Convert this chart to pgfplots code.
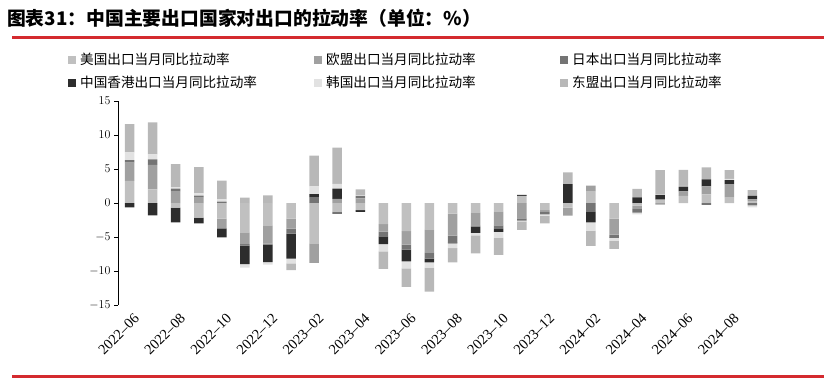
\documentclass[border=0pt]{standalone}
\usepackage{pgfplots}
\pgfplotsset{compat=1.18}
\usepackage{pgfplotstable}
\usepackage{fontspec}
\setmainfont{Liberation Serif}
\newfontfamily\cjk{Noto Sans CJK SC}
\definecolor{cUS}{HTML}{C0C0C0}
\definecolor{cEU}{HTML}{A0A0A0}
\definecolor{cJP}{HTML}{747474}
\definecolor{cHK}{HTML}{2D2D2D}
\definecolor{cKR}{HTML}{E2E2E2}
\definecolor{cAS}{HTML}{B8B8B8}
\definecolor{redline}{HTML}{D42A2F}

\pgfplotstableread{
i us eu jp hk kr as
0 3.24 2.69 0.39 -0.64 1.13 4.15
1 2.01 3.58 0.83 -1.81 0.74 4.70
2 -0.69 1.76 0.34 -2.16 0.25 3.38
3 -2.16 0.88 0.20 -0.83 0.34 3.87
4 -2.30 -1.42 0.20 -1.32 0.34 2.75
5 -4.31 -1.72 -0.25 -2.70 -0.54 0.78
6 -3.28 -2.70 -0.15 -2.55 -0.39 1.13
7 -2.30 -1.47 -0.74 -3.68 -0.69 -0.98
8 -5.93 -2.89 0.88 0.44 1.13 4.51
9 -1.32 0.59 -0.29 1.52 0.69 5.34
10 -1.03 0.69 0.34 -0.29 0.10 0.88
11 -3.09 -1.13 -0.69 -1.13 -1.08 -2.55
12 -4.12 -2.01 -0.74 -1.72 -1.03 -2.70
13 -3.97 -3.38 -0.83 -0.54 -0.83 -3.48
14 -1.57 -3.24 -0.98 -0.15 -0.69 -2.11
15 -1.47 -1.81 -0.20 -0.93 -0.34 -2.65
16 -1.32 -1.96 -0.54 -0.44 -0.88 -2.50
17 1.03 -2.25 -0.34 0.15 -0.10 -1.27
18 -1.03 -0.29 -0.34 0.00 -0.20 -1.13
19 -0.69 -1.18 0.00 2.79 0.00 1.72
20 1.76 0.78 -1.32 -1.52 -1.23 -2.25
21 -2.30 -2.35 -0.39 -0.10 -0.44 -1.18
22 -0.39 -0.49 -0.54 0.83 -0.25 1.23
23 0.50 -0.25 0.00 0.69 0.10 3.53
24 1.03 0.69 0.00 0.69 0.10 2.35
25 1.27 1.18 -0.29 1.03 0.00 1.76
26 0.88 1.91 0.00 0.59 0.15 1.32
27 0.29 0.25 -0.34 0.49 -0.29 0.88
}\data

\pgfplotsset{base/.style={
  scale only axis, width=646pt, height=204pt,
  at={(118pt,84pt)}, anchor=south west,
  xmin=-0.5, xmax=27.5, ymin=-15, ymax=15,
  ybar stacked, bar width=9.5pt,
}}

\begin{document}
\begin{tikzpicture}
\useasboundingbox (0,0) rectangle (824pt,389pt);
\node[anchor=west, inner sep=0pt, font=\cjk\bfseries\fontsize{18.8}{18.8}\selectfont] at (7pt,371pt) {图表31：中国主要出口国家对出口的拉动率（单位：\%）};
\draw[redline, line width=3pt] (12pt,351pt) -- (824pt,351pt);
\draw[redline, line width=3pt] (12pt,13pt) -- (824pt,13pt);

\begin{axis}[base,
  axis lines*=left,
  x axis line style={draw=none},
  y axis line style={black, line width=0.7pt},
  tick align=outside, major tick length=4pt,
  ytick={-15,-10,...,15},
  y tick style={black, line width=0.6pt},
  x tick style={draw=none},
  yticklabel style={font=\fontsize{13}{13}\selectfont},
  xtick={0,2,...,26},
  xticklabels={2022--06,2022--08,2022--10,2022--12,2023--02,2023--04,2023--06,2023--08,2023--10,2023--12,2024--02,2024--04,2024--06,2024--08},
  xticklabel style={rotate=45, anchor=north east, font=\fontsize{14.5}{14.5}\selectfont, inner sep=1pt, yshift=-4pt, xshift=1pt},
  legend columns=3,
  legend cell align=left,
  legend image code/.code={\fill[#1] (0pt,-4pt) rectangle (8pt,4pt);},
  legend style={at={(axis description cs:-0.0774,1.245)}, anchor=north west, draw=none, fill=none,
    column sep=2pt, row sep=6pt, inner sep=0pt, font=\cjk\fontsize{13.6}{13.6}\selectfont},
]
\addplot[fill=cUS, draw=none] table[x=i, y expr={max(\thisrow{us},0)}] {\data};
\addlegendentry{\makebox[230pt][l]{美国出口当月同比拉动率}}
\addplot[fill=cEU, draw=none] table[x=i, y expr={max(\thisrow{eu},0)}] {\data};
\addlegendentry{\makebox[230pt][l]{欧盟出口当月同比拉动率}}
\addplot[fill=cJP, draw=none] table[x=i, y expr={max(\thisrow{jp},0)}] {\data};
\addlegendentry{\makebox[230pt][l]{日本出口当月同比拉动率}}
\addplot[fill=cHK, draw=none] table[x=i, y expr={max(\thisrow{hk},0)}] {\data};
\addlegendentry{\makebox[230pt][l]{中国香港出口当月同比拉动率}}
\addplot[fill=cKR, draw=none] table[x=i, y expr={max(\thisrow{kr},0)}] {\data};
\addlegendentry{\makebox[230pt][l]{韩国出口当月同比拉动率}}
\addplot[fill=cAS, draw=none] table[x=i, y expr={max(\thisrow{as},0)}] {\data};
\addlegendentry{\makebox[230pt][l]{东盟出口当月同比拉动率}}
\end{axis}

\begin{axis}[base, hide axis]
\addplot[fill=cUS, draw=none] table[x=i, y expr={min(\thisrow{us},0)}] {\data};
\addplot[fill=cEU, draw=none] table[x=i, y expr={min(\thisrow{eu},0)}] {\data};
\addplot[fill=cJP, draw=none] table[x=i, y expr={min(\thisrow{jp},0)}] {\data};
\addplot[fill=cHK, draw=none] table[x=i, y expr={min(\thisrow{hk},0)}] {\data};
\addplot[fill=cKR, draw=none] table[x=i, y expr={min(\thisrow{kr},0)}] {\data};
\addplot[fill=cAS, draw=none] table[x=i, y expr={min(\thisrow{as},0)}] {\data};
\end{axis}
\end{tikzpicture}
\end{document}
